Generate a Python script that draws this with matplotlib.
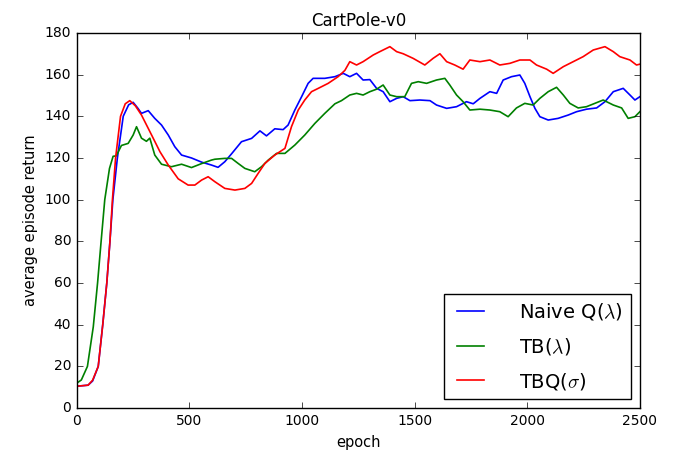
import numpy as np
import matplotlib
matplotlib.use('Agg')
import matplotlib.pyplot as plt

# Naive Q(lambda)
naive_epoch = [0, 50, 70, 95, 115, 133, 147, 160, 180, 206, 230, 250, 270, 287, 317, 346, 376, 406, 435, 465,
               509, 554, 598, 627, 657, 687, 731, 776, 813, 842, 879, 916, 938, 968, 998, 1027, 1049, 1101, 1146,
               1183, 1212, 1242, 1271, 1301, 1331, 1360, 1390, 1420, 1449, 1479, 1523, 1568, 1597, 1642, 1686,
               1730, 1760, 1790, 1834, 1864, 1893, 1930, 1967, 1989, 2012, 2034, 2056, 2093, 2137, 2182, 2219,
               2263, 2308, 2345, 2382, 2426, 2456, 2478, 2500]
naive_ret = [10.5, 11, 13, 20, 40, 60, 80, 100, 120, 140, 145.5, 146.7, 144, 141.4, 142.7, 139, 135.8, 131, 125.4, 121.4,
             120, 118, 116.6, 115.5, 118.2, 122, 127.8, 129.4, 133, 130.6, 134, 133.6, 135.8, 143, 149.4, 155.8, 158.2, 158.2, 159,
             160.6, 159, 160.6, 157.4, 157.6, 153.4, 151.8, 147, 148.6, 149.4, 147.5, 147.8, 147.5, 145.4, 143.8, 144.6,
             147, 146, 148.6, 151.8, 151, 157.4, 159, 159.8, 155.8, 149.4, 143.8, 139.8, 138.2, 139, 140.6, 142.2,
             143.4, 144, 147, 151.8, 153.4, 150.2, 147.8, 149.4]

# TB(lambda)
tb_epoch = [0, 20, 47, 73, 92, 107, 124, 145, 161, 175, 198, 228, 250, 265, 287, 309, 324, 346, 376, 420, 465, 509,
            554, 598, 613, 657, 687, 716, 746, 790, 820, 850, 887, 924, 968, 1012, 1057, 1101, 1146, 1175, 1212, 1242,
            1271, 1301, 1331, 1360, 1390, 1420, 1456, 1486, 1516, 1553, 1597, 1634, 1656, 1686, 1715, 1745, 1790,
            1834, 1878, 1915, 1952, 1989, 2026, 2056, 2093, 2130, 2160, 2189, 2226, 2263, 2300, 2337, 2382, 2419,
            2448, 2478, 2500]
tb_ret = [12, 13.5, 20, 39, 60, 79, 100, 115, 120.8, 121, 126, 127, 131, 135, 129.5, 128, 129.5, 121.4, 117, 115.8, 117, 115.4,
          117.3, 119, 119.4, 119.8, 119.8, 117.4, 115, 113.4, 115.8, 119, 122.2, 122.2, 126.2, 131, 136.6, 141.4, 146, 147.5, 150.2, 151,
          150.2, 151.8, 153, 155, 150.2, 149.4, 149.4, 155.8, 156.6, 155.8, 157.4, 158.2, 155, 150.2, 147, 143, 143.4,
          143, 142.2, 139.8, 144, 146.2, 145.4, 148.6, 151.8, 153.9, 150.2, 146.2, 144, 144.6, 146.2, 147.8, 145.4, 144,
          139, 139.8, 142.2]

# TBQ(sigma)
tbq_epoch = [0, 50, 70, 95, 115, 133, 147, 158, 172, 194, 215, 235, 260, 287, 332, 369, 406, 450, 494, 524, 554, 583,
             613, 657, 702, 746, 776, 805, 835, 879, 924, 953, 983, 1012, 1042, 1072, 1116, 1160, 1190, 1212, 1242,
             1271, 1316, 1345, 1390, 1420, 1449, 1493, 1545, 1582, 1612, 1642, 1678, 1715, 1745, 1790, 1834, 1878,
             1923, 1967, 2012, 2041, 2086, 2115, 2160, 2204, 2248, 2293, 2345, 2382, 2411, 2456, 2485, 2500]
tbq_ret = [10.5, 11, 13.4, 20, 40, 60, 80, 100, 120, 140, 146, 147.5, 145, 140.6, 131, 123, 116.6, 110, 107, 107, 109.4, 111,
           108.6, 105.4, 104.6, 105.4, 107.8, 112.6, 117.4, 121.4, 124.6, 135, 143, 147.8, 151.8, 153.4, 155.8, 159, 162, 166.2, 164.6,
           166.2, 169.4, 171, 173.4, 171, 170, 167.8, 164.6, 167.8, 170, 166.2, 164.6, 162.6, 167, 166.2, 167, 164.6,
           165.4, 167, 167, 164.6, 162.6, 160.6, 163.8, 166.2, 168.6, 171.8, 173.4, 171, 168.6, 167, 164.6, 165]

plt.style.use('classic')
plt.rcParams['figure.facecolor'] = 'white'
plt.rcParams['savefig.facecolor'] = 'white'

fig = plt.figure(figsize=(6.8, 4.57), dpi=100)
ax = fig.add_axes([0.113, 0.107, 0.828, 0.821])

ax.plot(naive_epoch, naive_ret, color='b', lw=1.2, label=r'Naive Q($\lambda$)')
ax.plot(tb_epoch, tb_ret, color='g', lw=1.2, label=r'TB($\lambda$)')
ax.plot(tbq_epoch, tbq_ret, color='r', lw=1.2, label=r'TBQ($\sigma$)')

ax.set_xlim(0, 2500)
ax.set_ylim(0, 180)
ax.set_xticks([0, 500, 1000, 1500, 2000, 2500])
ax.set_yticks(np.arange(0, 181, 20))
ax.tick_params(labelsize=10)
ax.set_xlabel('epoch', fontsize=10.5)
ax.set_ylabel('average episode return', fontsize=10.5)
ax.set_title('CartPole-v0', fontsize=12)

ax.legend(loc='lower right', fontsize=14, borderaxespad=0.45, handlelength=2.0,
          handletextpad=1.5, labelspacing=0.7)

fig.savefig('out.png', dpi=100)
